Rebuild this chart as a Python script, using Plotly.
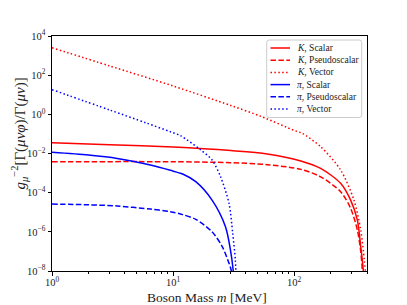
import plotly.graph_objects as go

# Boson mass [MeV] and log10 of g^-2 * ratio
k_scalar_m = [1, 3, 10, 30, 60, 113.6, 165.5, 242, 293, 333, 355, 368, 376, 382]
k_scalar_v = [-1.45, -1.55, -1.67, -1.85, -2.02, -2.38, -2.76, -3.52, -4.38, -5.4, -6.76, -7.6, -8.3, -9.5]

k_pseudo_m = [1, 10, 30, 60, 113.6, 165.5, 242, 293, 333, 355, 366, 374]
k_pseudo_v = [-2.42, -2.42, -2.47, -2.57, -2.81, -3.19, -3.95, -4.8, -5.91, -7.0, -8.0, -9.5]

k_vector_m = [1, 3, 10, 30, 53, 100, 116.7, 165.5, 242, 312, 355, 380, 390, 396]
k_vector_v = [3.4, 2.47, 1.45, 0.45, -0.1, -0.82, -0.97, -1.65, -2.84, -4.38, -5.91, -7.44, -8.2, -9.3]

pi_scalar_m = [1, 2, 3.45, 6.5, 9.5, 12, 15.4, 21, 27.1, 29.8, 31.3, 32.2]
pi_scalar_v = [-1.94, -2.08, -2.25, -2.59, -2.86, -3.05, -3.44, -4.38, -5.74, -6.93, -7.9, -9.0]

pi_pseudo_m = [1, 2, 3.45, 6.5, 9.5, 12, 15.4, 21, 25.5, 29, 30.3, 31]
pi_pseudo_v = [-4.58, -4.62, -4.68, -4.84, -4.97, -5.12, -5.36, -6.0, -6.76, -7.61, -8.0, -9.0]

pi_vector_m = [1, 3, 6, 9.5, 11.5, 16.7, 21, 24.7, 29, 31.1, 32.7, 33.4]
pi_vector_v = [1.26, 0.22, -0.44, -0.89, -1.09, -1.79, -2.33, -3.19, -4.55, -6.08, -7.44, -9.0]

labels = ["<i>K</i>, Scalar", "<i>K</i>, Pseudoscalar", "<i>K</i>, Vector",
          "<i>π</i>, Scalar", "<i>π</i>, Pseudoscalar", "<i>π</i>, Vector"]

RED, BLUE = "#ff0000", "#0000ff"
SOLID, DASH, DOT = "solid", "5.5px,2.4px", "1.5px,2.4px"
series = [
    (labels[0], k_scalar_m, k_scalar_v, RED, SOLID),
    (labels[1], k_pseudo_m, k_pseudo_v, RED, DASH),
    (labels[2], k_vector_m, k_vector_v, RED, DOT),
    (labels[3], pi_scalar_m, pi_scalar_v, BLUE, SOLID),
    (labels[4], pi_pseudo_m, pi_pseudo_v, BLUE, DASH),
    (labels[5], pi_vector_m, pi_vector_v, BLUE, DOT),
]

y_ticks = [4, 2, 0, -2, -4, -6, -8]
x_ticks = [0, 1, 2]

# the page body has an 8px default margin; lay out in window pixels
OFF = 8
W, H = 407, 305
PL, PT, PR, PB = 52, 36, 367, 271      # plot box in window pixels
L, T = PL - OFF, PT - OFF
R, B = W - (PR - OFF), H - (PB - OFF)
PW, PH = PR - PL, PB - PT
def px(x):
    return (x - PL) / PW
def py(y):
    return 1 - (y - PT) / PH

fig = go.Figure()
for name, m, v, col, dash in series:
    fig.add_trace(go.Scatter(
        x=m, y=[10 ** e for e in v], mode="lines", name=name, showlegend=False,
        line=dict(color=col, dash=dash, width=1.5, shape="spline", smoothing=0.8),
    ))

font = "Liberation Serif"
minor_x = [k * 10 ** d for d in range(3) for k in range(2, 10) if k * 10 ** d < 410]

shapes = []
annotations = []
# legend box (rounded)
bx0, bx1, by0, by1 = px(266.7), px(361.7), py(40), py(117.5)
rx, ry = 2.5 / PW, 2.5 / PH
path = (f"M {bx0+rx},{by0} L {bx1-rx},{by0} Q {bx1},{by0} {bx1},{by0-ry} "
        f"L {bx1},{by1+ry} Q {bx1},{by1} {bx1-rx},{by1} L {bx0+rx},{by1} "
        f"Q {bx0},{by1} {bx0},{by1+ry} L {bx0},{by0-ry} Q {bx0},{by0} {bx0+rx},{by0} Z")
shapes.append(dict(type="path", xref="paper", yref="paper", path=path,
                   fillcolor="rgba(255,255,255,0.8)", line=dict(color="#cccccc", width=1),
                   layer="above"))
for i, (name, m, v, col, dash) in enumerate(series):
    yy = py(48 + 12.2 * i)
    shapes.append(dict(type="line", xref="paper", yref="paper",
                       x0=px(270.5), x1=px(290), y0=yy, y1=yy,
                       line=dict(color=col, dash=dash, width=1.5), layer="above"))
    annotations.append(dict(xref="paper", yref="paper", x=px(294.5), y=yy,
                            xanchor="left", yanchor="middle", showarrow=False,
                            text=name, font=dict(family=font, size=9.5, color="#222")))

annotations.append(dict(xref="paper", yref="paper", x=px(207), y=py(297.5),
                        xanchor="center", yanchor="middle", showarrow=False,
                        text="Boson Mass <i>m</i> [MeV]",
                        font=dict(family=font, size=13.5, color="#222")))
annotations.append(dict(xref="paper", yref="paper", x=px(19.5), y=py(134),
                        xanchor="center", yanchor="middle", showarrow=False, textangle=-90,
                        text="<i>g</i><sub><i>μ</i></sub><sup>−2</sup>[Γ(<i>μνφ</i>)/Γ(<i>μν</i>)]",
                        font=dict(family=font, size=15, color="#222")))

fig.update_layout(
    width=W, height=H,
    margin=dict(l=L, r=R, t=T, b=B),
    paper_bgcolor="white", plot_bgcolor="white",
    font=dict(family=font, size=10, color="#222"),
    showlegend=False,
    shapes=shapes, annotations=annotations,
)
fig.update_xaxes(
    type="log", range=[0, 2.602], automargin=False,
    tickvals=[10 ** e for e in x_ticks],
    ticktext=[f"10<sup>{e}</sup>" for e in x_ticks],
    ticks="outside", ticklen=3.5, tickwidth=0.8, tickcolor="black",
    ticklabelstandoff=-2,
    minor=dict(tickvals=minor_x, ticks="outside", ticklen=2, tickwidth=0.6, tickcolor="black"),
    showline=True, linecolor="black", linewidth=1, mirror=True, showgrid=False, zeroline=False,
    tickfont=dict(family=font, size=10.5),
)
fig.update_yaxes(
    type="log", range=[-8, 4], automargin=False,
    tickvals=[10 ** e for e in y_ticks],
    ticktext=[f"10<sup>{'−' if e < 0 else ''}{abs(e)}</sup>" for e in y_ticks],
    ticks="outside", ticklen=3.5, tickwidth=0.8, tickcolor="black",
    showline=True, linecolor="black", linewidth=1, mirror=True, showgrid=False, zeroline=False,
    tickfont=dict(family=font, size=10.5),
)
fig.write_html("out.html")
